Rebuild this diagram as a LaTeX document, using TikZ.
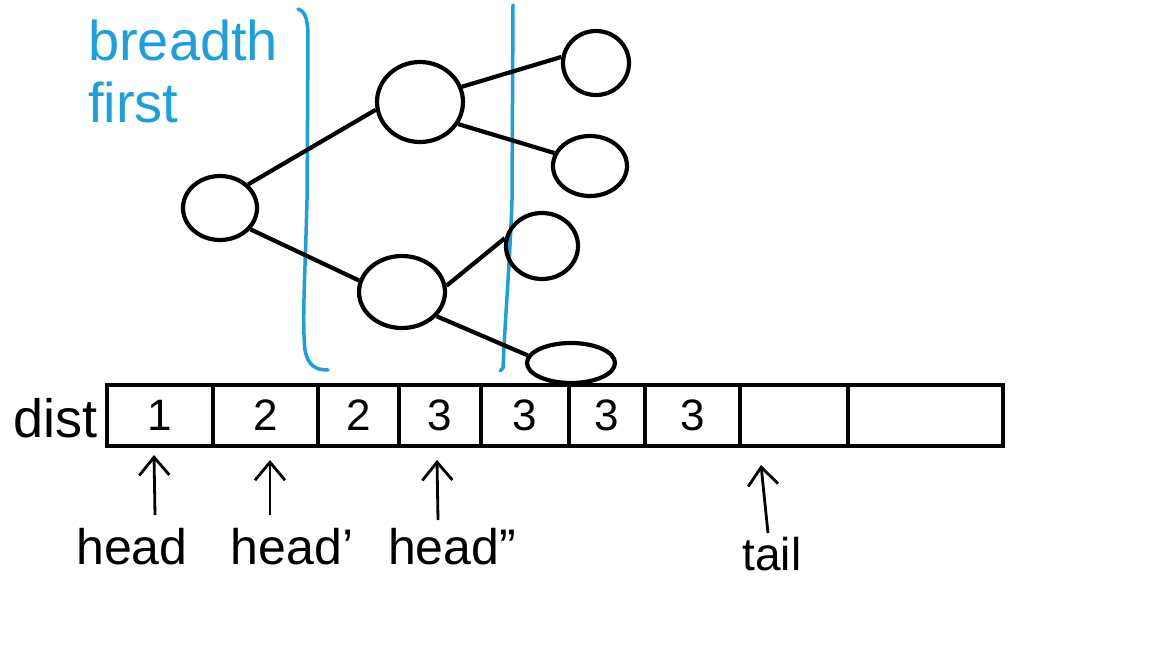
\documentclass[tikz,border=0pt]{standalone}
\usepackage{fontspec}
\setmainfont{Liberation Sans}
\usetikzlibrary{shapes.geometric,arrows.meta}
\definecolor{penblue}{RGB}{28,160,220}
\tikzset{
  circ/.style={draw=black,line width=4.2pt,ellipse,inner sep=0pt},
  edge/.style={draw=black,line width=4.2pt},
  cell/.style={draw=black,line width=4.2pt,rectangle,minimum height=61pt,inner sep=0pt,font=\fontsize{44}{48}\selectfont},
  pen/.style={draw=penblue,line width=3.5pt,line cap=round,line join=round},
  ptr/.style={draw=black,line width=2.8pt,-{Straight Barb[length=18pt,width=30pt,line width=2.8pt]}},
  lbl/.style={inner sep=0pt,font=\fontsize{50}{54}\selectfont}
}
\begin{document}
\begin{tikzpicture}[x=1pt,y=-1pt]
\useasboundingbox (0,0) rectangle (1152,648);
\fill[white] (0,0) rectangle (1152,648);

% blue annotation
\node[inner sep=0pt,text=penblue,font=\fontsize{56}{62}\selectfont,anchor=north west,align=left] (bf) at (88,20) {breadth\\first};
\draw[pen] (298,9) .. controls (306,12) and (308,20) .. (308,40) -- (307,200) .. controls (305,280) and (302,320) .. (305,350) .. controls (308,366) and (316,370) .. (328,370);
\draw[pen] (513,5) -- (512,200) .. controls (510,260) and (505,320) .. (503,368) -- (500,371);

% tree
\node[circ,minimum width=74pt,minimum height=64pt] (r) at (220,208) {};
\node[circ,minimum width=86pt,minimum height=80pt] (a) at (420,102) {};
\node[circ,minimum width=86pt,minimum height=72pt] (b) at (402,292) {};
\node[circ,minimum width=66pt,minimum height=64pt] (l1) at (596,63) {};
\node[circ,minimum width=74pt,minimum height=60pt] (l2) at (590,166) {};
\node[circ,minimum width=72pt,minimum height=66pt] (l3) at (542,246) {};
\node[circ,minimum width=88pt,minimum height=40pt] (l4) at (571,363) {};
\draw[edge] (r.40) -- (a.190);
\draw[edge] (r.-35) -- (b.165);
\draw[edge] (a.20) -- (l1.170);
\draw[edge] (a.-30) -- (l2.160);
\draw[edge] (b.8) -- (l3.168);
\draw[edge] (b.-35) -- (l4.170);

% array
\node[lbl,font=\fontsize{54}{58}\selectfont,anchor=east] (dist) at (98,418) {dist};
\node[cell,minimum width=106pt] (c1) at (160,415.5) {1};
\node[cell,minimum width=105pt] (c2) at (265.5,415.5) {2};
\node[cell,minimum width=81pt] (c3) at (358.5,415.5) {2};
\node[cell,minimum width=82pt] (c4) at (440,415.5) {3};
\node[cell,minimum width=88pt] (c5) at (525,415.5) {3};
\node[cell,minimum width=76pt] (c6) at (607,415.5) {3};
\node[cell,minimum width=95pt] (c7) at (692.5,415.5) {3};
\node[cell,minimum width=108pt] (c8) at (794,415.5) {};
\node[cell,minimum width=155pt] (c9) at (925.5,415.5) {};

% pointers
\node[lbl,anchor=base] (h0) at (132,564) {head};
\node[lbl,anchor=base] (h1) at (292,564) {head'};
\node[lbl,anchor=base] (h2) at (452,564) {head''};
\node[lbl,font=\fontsize{46}{50}\selectfont,anchor=base] (tl) at (772,570) {tail};
\coordinate (p0) at (154,455);
\coordinate (p1) at (270,460);
\coordinate (p2) at (437,460);
\coordinate (p3) at (761,465);
\draw[ptr] (155,515) -- (p0);
\draw[ptr] (270,515) -- (p1);
\draw[ptr] (438,520) -- (p2);
\draw[ptr] (768,533) -- (p3);
\end{tikzpicture}
\end{document}
